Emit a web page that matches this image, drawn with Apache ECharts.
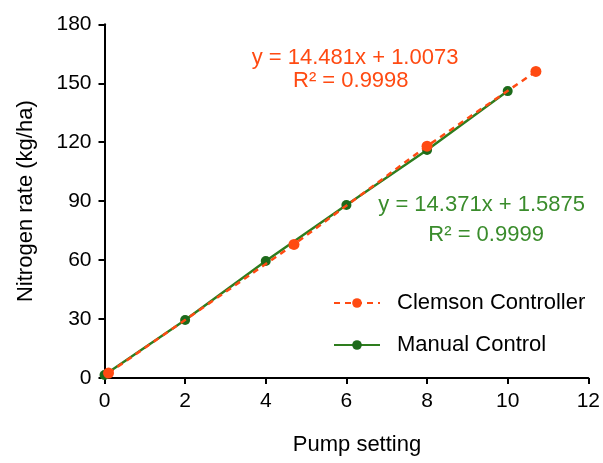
<!DOCTYPE html>
<html><head><meta charset="utf-8">
<script src="https://cdn.jsdelivr.net/npm/echarts@6/dist/echarts.min.js"></script>
<style>html,body{margin:0;padding:0;background:#fff}#c{width:603px;height:463px}</style>
</head><body><div id="c"></div>
<script>
var clemsonX = [0.1, 4.7, 8, 10.7];
var clemsonY = [2.5, 68, 118, 156];
var manualX = [0, 2, 4, 6, 8, 10];
var manualY = [1.5, 29.5, 59.5, 88, 116, 146];
var xTicks = [0, 2, 4, 6, 8, 10, 12];
var yTicks = [0, 30, 60, 90, 120, 150, 180];
var clemsonEq = ['y = 14.481x + 1.0073', 'R\u00b2 = 0.9998'];
var manualEq = ['y = 14.371x + 1.5875', 'R\u00b2 = 0.9999'];
var xTitle = 'Pump setting';
var yTitle = 'Nitrogen rate (kg/ha)';

var FONT = '"Liberation Sans", Arial, sans-serif';
var ORANGE = '#FF4A12';
var GREEN_LINE = '#2E7D1E';
var GREEN_MARK = '#1D6A1A';
var GREEN_TEXT = '#3A8C2C';

function pairs(xs, ys){ return xs.map(function(x,i){ return [x, ys[i]]; }); }
function txt(s, x, y, color, align){
  return {type: 'text', z: 10, style: {text: s, x: x, y: y, align: align || 'left', verticalAlign: 'middle', font: '22px ' + FONT, fill: color}};
}

var chart = echarts.init(document.getElementById('c'), null, {renderer:'canvas'});
chart.setOption({
  animation: false,
  backgroundColor: '#fff',
  grid: {left: 104.5, right: 10.3, top: 24.3, bottom: 85, containLabel: false},
  xAxis: {
    type: 'value', min: xTicks[0], max: xTicks[xTicks.length-1], interval: 2,
    axisLine: {show: true, lineStyle: {color: '#000', width: 2}},
    axisTick: {show: true, length: 6, lineStyle: {color: '#000', width: 2}},
    axisLabel: {fontFamily: FONT, fontSize: 21, color: '#000', margin: 13},
    splitLine: {show: false}
  },
  yAxis: {
    type: 'value', min: yTicks[0], max: yTicks[yTicks.length-1], interval: 30,
    name: yTitle, nameLocation: 'middle', nameGap: 68,
    nameTextStyle: {fontFamily: FONT, fontSize: 22, color: '#000'},
    axisLine: {show: true, lineStyle: {color: '#000', width: 2}},
    axisTick: {show: true, length: 6, lineStyle: {color: '#000', width: 2}},
    axisLabel: {fontFamily: FONT, fontSize: 21, color: '#000', margin: 13},
    splitLine: {show: false}
  },
  legend: {
    orient: 'vertical', left: 328, top: 287, itemWidth: 46, itemHeight: 12, itemGap: 20,
    textStyle: {fontFamily: FONT, fontSize: 22, color: '#000', padding: [0,0,0,12]},
    data: ['Clemson Controller', 'Manual Control']
  },
  series: [
    {
      name: 'Manual Control', type: 'line', data: pairs(manualX, manualY),
      symbol: 'circle', symbolSize: 10, z: 2,
      lineStyle: {color: GREEN_LINE, width: 2.5},
      itemStyle: {color: GREEN_MARK}
    },
    {
      name: 'Clemson Controller', type: 'line', data: pairs(clemsonX, clemsonY),
      symbol: 'circle', symbolSize: 11, z: 3,
      lineStyle: {color: ORANGE, width: 2.5, type: [6, 5]},
      itemStyle: {color: ORANGE}
    }
  ],
  graphic: [
    txt(clemsonEq[0], 251.7, 58, ORANGE),
    txt(clemsonEq[1], 293, 81, ORANGE),
    txt(manualEq[0], 378.3, 205, GREEN_TEXT),
    txt(manualEq[1], 428.3, 235, GREEN_TEXT),
    txt(xTitle, 357, 445, '#000', 'center')
  ]
});
</script></body></html>
